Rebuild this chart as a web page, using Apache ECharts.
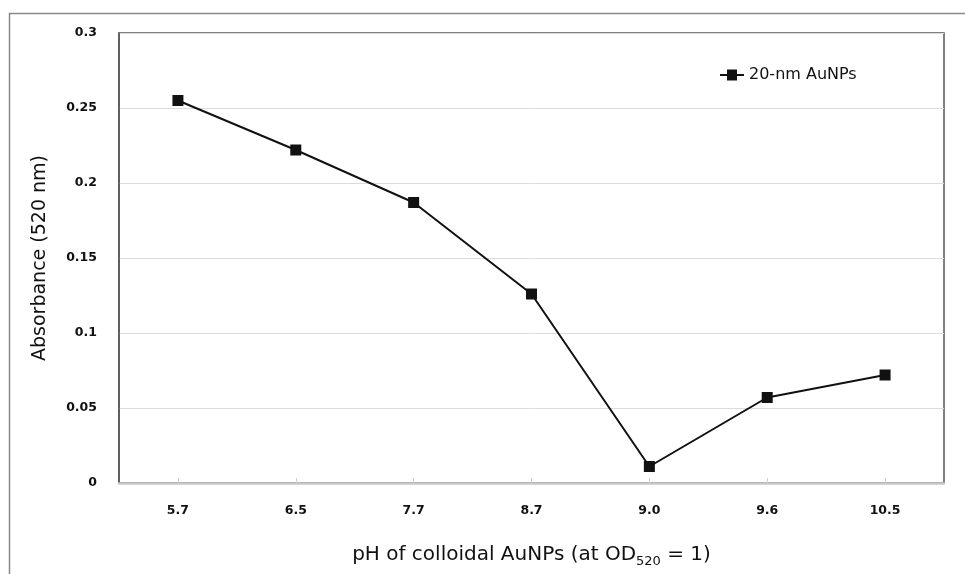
<!DOCTYPE html>
<html><head><meta charset="utf-8">
<script src="https://cdn.jsdelivr.net/npm/echarts@6/dist/echarts.min.js"></script>
<style>html,body{margin:0;padding:0;background:#fff}#c{width:965px;height:574px}</style>
</head><body><div id="c"></div>
<script>
const categories = ['5.7','6.5','7.7','8.7','9.0','9.6','10.5'];
const absorbance = [0.255,0.222,0.187,0.126,0.011,0.057,0.072];
const yTicks = [0,0.05,0.1,0.15,0.2,0.25,0.3];
const seriesName = '20-nm AuNPs';

const chart = echarts.init(document.getElementById('c'), null, {renderer:'canvas'});
const font = '"DejaVu Sans", Verdana, sans-serif';
chart.setOption({
  animation:false,
  backgroundColor:'#fff',
  graphic:[{type:'rect',shape:{x:9.5,y:13.5,width:1000,height:600},style:{fill:null,stroke:'#888',lineWidth:1.5},z:-10}],
  legend:{show:true,left:715,top:62,itemWidth:24,itemHeight:11,itemGap:0,
    textStyle:{fontFamily:font,fontSize:16,color:'#111'},
    data:[{name:seriesName,icon:'path://M0,4.4L7,4.4L7,0L17,0L17,4.4L24,4.4L24,6.6L17,6.6L17,11L7,11L7,6.6L0,6.6Z'}]},
  grid:{left:119,top:33,right:21,bottom:91,show:true,borderColor:'#555',borderWidth:1.5},
  xAxis:{type:'category',data:categories,boundaryGap:true,
    name:'pH of colloidal AuNPs (at OD{sub|520} = 1)',nameLocation:'middle',nameGap:59,
    nameTextStyle:{fontFamily:font,fontSize:20,color:'#111',rich:{sub:{fontSize:13,padding:[13,0,0,0],fontFamily:font,color:'#111'}}},
    axisLine:{show:true,lineStyle:{color:'#c8c8c8',width:2.5}},
    axisTick:{show:true,alignWithLabel:true,inside:true,length:5,lineStyle:{color:'#d0d0d0',width:1}},
    axisLabel:{margin:21,fontFamily:font,fontWeight:'bold',fontSize:12.5,color:'#111'},
    splitLine:{show:false}},
  yAxis:{type:'value',min:0,max:0.3,interval:0.05,
    name:'Absorbance (520 nm)',nameLocation:'middle',nameGap:69,
    nameTextStyle:{fontFamily:font,fontSize:19,color:'#111'},
    axisLine:{show:true,lineStyle:{color:'#555',width:1.5}},
    axisTick:{show:false},
    axisLabel:{margin:22,fontFamily:font,fontWeight:'bold',fontSize:12.5,color:'#111',
      formatter:v=>{const t=yTicks.find(x=>Math.abs(x-v)<1e-9);return String(+((t!==undefined?t:v).toFixed(2)));}},
    splitLine:{show:true,lineStyle:{color:'#dcdcdc',width:1}}},
  series:[{name:seriesName,type:'line',data:absorbance,symbol:'rect',symbolSize:11,
    lineStyle:{color:'#111',width:2},itemStyle:{color:'#111'}}]
});
</script></body></html>
